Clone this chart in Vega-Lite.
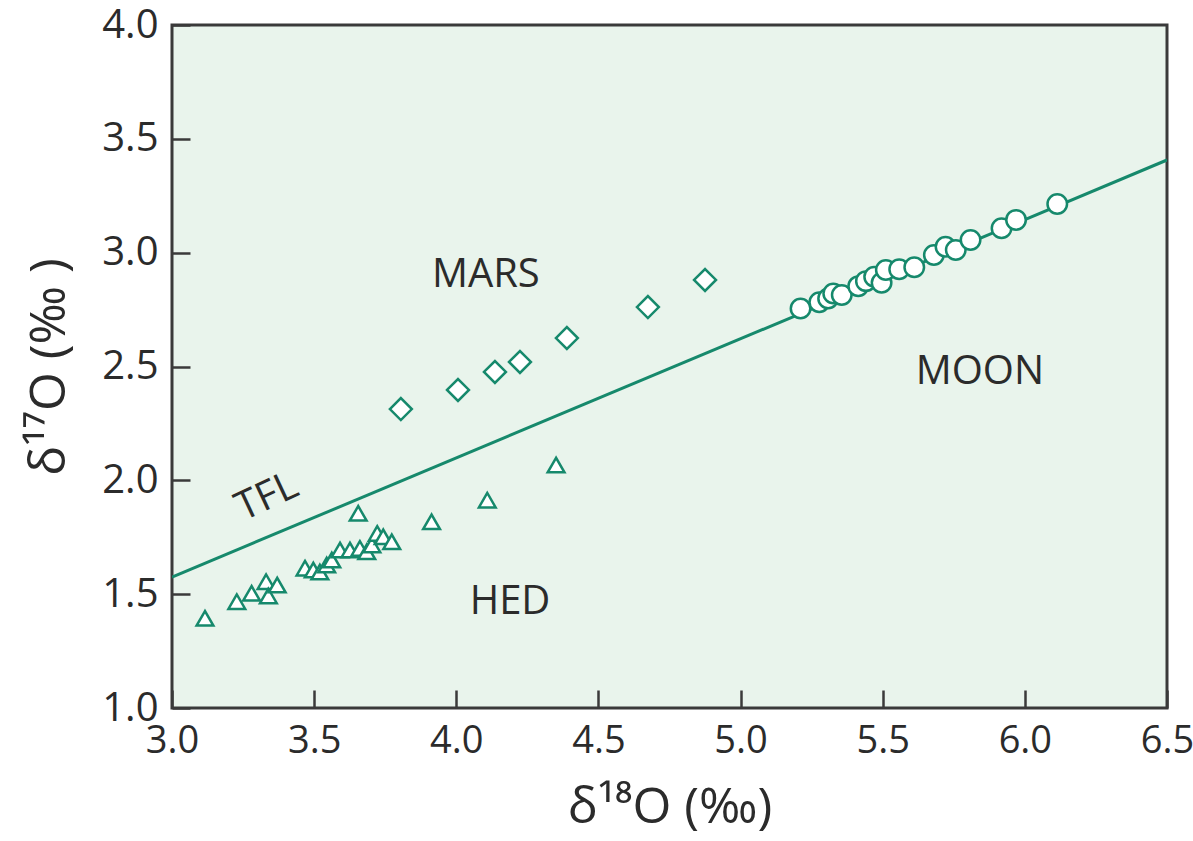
{
  "$schema": "https://vega.github.io/schema/vega-lite/v6.json",
  "width": 995,
  "height": 683,
  "autosize": {"type": "none"},
  "padding": {"left": 172, "top": 25, "right": 26, "bottom": 133},
  "background": "#ffffff",
  "config": {
    "view": {"fill": "#e9f4ec", "stroke": "#3a3a3a", "strokeWidth": 3},
    "axis": {
      "zindex": 1,
      "grid": false,
      "domain": false,
      "ticks": true,
      "tickSize": -18,
      "tickColor": "#3a3a3a",
      "tickWidth": 2.5,
      "labelFlush": false,
      "labelFont": "Open Sans",
      "labelFontSize": 40,
      "labelColor": "#2b2b2b",
      "titleFont": "Open Sans",
      "titleFontSize": 50,
      "titleFontWeight": "normal",
      "titleColor": "#2b2b2b"
    }
  },
  "datasets": {
    "pts": [
      {"group": "MARS", "d18O": 3.805, "d17O": 2.313},
      {"group": "MARS", "d18O": 4.006, "d17O": 2.397},
      {"group": "MARS", "d18O": 4.136, "d17O": 2.476},
      {"group": "MARS", "d18O": 4.224, "d17O": 2.520},
      {"group": "MARS", "d18O": 4.389, "d17O": 2.625},
      {"group": "MARS", "d18O": 4.674, "d17O": 2.761},
      {"group": "MARS", "d18O": 4.875, "d17O": 2.880},
      {"group": "MOON", "d18O": 5.211, "d17O": 2.755},
      {"group": "MOON", "d18O": 5.277, "d17O": 2.782},
      {"group": "MOON", "d18O": 5.308, "d17O": 2.799},
      {"group": "MOON", "d18O": 5.326, "d17O": 2.821},
      {"group": "MOON", "d18O": 5.356, "d17O": 2.814},
      {"group": "MOON", "d18O": 5.414, "d17O": 2.853},
      {"group": "MOON", "d18O": 5.441, "d17O": 2.875},
      {"group": "MOON", "d18O": 5.470, "d17O": 2.894},
      {"group": "MOON", "d18O": 5.496, "d17O": 2.868},
      {"group": "MOON", "d18O": 5.511, "d17O": 2.924},
      {"group": "MOON", "d18O": 5.558, "d17O": 2.927},
      {"group": "MOON", "d18O": 5.611, "d17O": 2.936},
      {"group": "MOON", "d18O": 5.680, "d17O": 2.990},
      {"group": "MOON", "d18O": 5.721, "d17O": 3.026},
      {"group": "MOON", "d18O": 5.757, "d17O": 3.012},
      {"group": "MOON", "d18O": 5.809, "d17O": 3.056},
      {"group": "MOON", "d18O": 5.918, "d17O": 3.107},
      {"group": "MOON", "d18O": 5.969, "d17O": 3.144},
      {"group": "MOON", "d18O": 6.114, "d17O": 3.214},
      {"group": "HED", "d18O": 3.116, "d17O": 1.394},
      {"group": "HED", "d18O": 3.228, "d17O": 1.467},
      {"group": "HED", "d18O": 3.280, "d17O": 1.504},
      {"group": "HED", "d18O": 3.331, "d17O": 1.555},
      {"group": "HED", "d18O": 3.339, "d17O": 1.492},
      {"group": "HED", "d18O": 3.370, "d17O": 1.540},
      {"group": "HED", "d18O": 3.468, "d17O": 1.614},
      {"group": "HED", "d18O": 3.497, "d17O": 1.606},
      {"group": "HED", "d18O": 3.520, "d17O": 1.597},
      {"group": "HED", "d18O": 3.544, "d17O": 1.628},
      {"group": "HED", "d18O": 3.562, "d17O": 1.650},
      {"group": "HED", "d18O": 3.591, "d17O": 1.694},
      {"group": "HED", "d18O": 3.626, "d17O": 1.694},
      {"group": "HED", "d18O": 3.661, "d17O": 1.701},
      {"group": "HED", "d18O": 3.685, "d17O": 1.686},
      {"group": "HED", "d18O": 3.703, "d17O": 1.716},
      {"group": "HED", "d18O": 3.722, "d17O": 1.767},
      {"group": "HED", "d18O": 3.743, "d17O": 1.752},
      {"group": "HED", "d18O": 3.773, "d17O": 1.730},
      {"group": "HED", "d18O": 3.655, "d17O": 1.855},
      {"group": "HED", "d18O": 3.913, "d17O": 1.818},
      {"group": "HED", "d18O": 4.109, "d17O": 1.913},
      {"group": "HED", "d18O": 4.351, "d17O": 2.067}
    ],
    "tfl": [
      {"d18O": 3.0, "d17O": 1.575},
      {"d18O": 6.5, "d17O": 3.407}
    ],
    "labels": [
      {"label": "MARS", "d18O": 4.104, "d17O": 2.902, "angle": 0},
      {"label": "MOON", "d18O": 5.842, "d17O": 2.476, "angle": 0},
      {"label": "HED", "d18O": 4.189, "d17O": 1.466, "angle": 0},
      {"label": "TFL", "d18O": 3.334, "d17O": 1.927, "angle": -25}
    ]
  },
  "layer": [
    {
      "data": {"name": "tfl"},
      "mark": {"type": "line", "color": "#16896c", "strokeWidth": 3, "clip": true},
      "encoding": {
        "x": {"field": "d18O", "type": "quantitative", "scale": {"domain": [3.0, 6.5], "nice": false, "zero": false},
              "axis": {"values": [3.0, 3.5, 4.0, 4.5, 5.0, 5.5, 6.0, 6.5], "format": ".1f", "labelPadding": 32, "labelFontSize": 38,
                       "title": "δ¹⁸O (‰)", "titlePadding": 22}},
        "y": {"field": "d17O", "type": "quantitative", "scale": {"domain": [1.0, 4.0], "nice": false, "zero": false},
              "axis": {"values": [1.0, 1.5, 2.0, 2.5, 3.0, 3.5, 4.0], "format": ".1f", "labelPadding": 32,
                       "title": "δ¹⁷O (‰ )", "titlePadding": 27}}
      }
    },
    {
      "data": {"name": "pts"},
      "mark": {"type": "point", "filled": false, "fill": "#ffffff", "fillOpacity": 1, "stroke": "#16896c", "strokeWidth": 2.5, "opacity": 1},
      "encoding": {
        "x": {"field": "d18O", "type": "quantitative"},
        "y": {"field": "d17O", "type": "quantitative"},
        "shape": {"field": "group", "type": "nominal", "legend": null,
                  "scale": {"domain": ["MARS", "MOON", "HED"], "range": ["diamond", "circle", "triangle-up"]}},
        "size": {"field": "group", "type": "nominal", "legend": null,
                 "scale": {"domain": ["MARS", "MOON", "HED"], "range": [480, 280, 360]}}
      }
    },
    {
      "data": {"name": "labels"},
      "mark": {"type": "text", "font": "Open Sans", "fontSize": 40, "color": "#2b2b2b", "align": "center", "baseline": "middle"},
      "encoding": {
        "x": {"field": "d18O", "type": "quantitative"},
        "y": {"field": "d17O", "type": "quantitative"},
        "text": {"field": "label"},
        "angle": {"field": "angle", "type": "quantitative", "scale": null}
      }
    }
  ]
}
